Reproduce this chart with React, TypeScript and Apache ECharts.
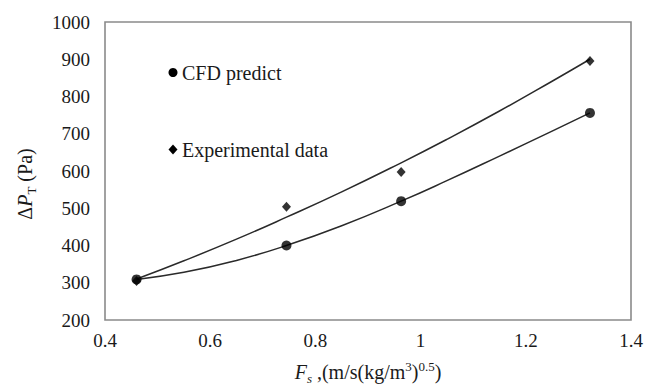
import React, { useEffect, useRef } from "react";
import * as echarts from "echarts";

const cfdX = [0.46, 0.745, 0.963, 1.322];
const cfdY = [309, 400, 519, 756];
const expX = [0.46, 0.745, 0.963, 1.322];
const expY = [305, 504, 597, 895];

// trend curves
const trendX = [0.46, 0.55, 0.65, 0.745, 0.85, 0.963, 1.05, 1.15, 1.25, 1.322];
const cfdTrendY = [309, 328, 360, 400, 453, 519, 574, 640, 707, 756];
const expTrendY = [310, 359, 417, 476, 544, 622, 685, 761, 841, 900];

// tick labels
const xTicks = [0.4, 0.6, 0.8, 1.0, 1.2, 1.4];
const xTickLabels = ["0.4", "0.6", "0.8", "1", "1.2", "1.4"];
const yTicks = [200, 300, 400, 500, 600, 700, 800, 900, 1000];
const yTickLabels = ["200", "300", "400", "500", "600", "700", "800", "900", "1000"];

const legendNames = ["CFD predict", "Experimental data"];

const FONT = "serif";
const INK = "#1a1a1a";

type Piece = { t: string; s: number; it?: boolean; dy?: number };

const xTitle: Piece[] = [
  { t: "F", s: 20, it: true },
  { t: "s", s: 13, it: true, dy: 6 },
  { t: " ,(m/s(kg/m", s: 20 },
  { t: "3", s: 13, dy: -6 },
  { t: ")", s: 20 },
  { t: "0.5", s: 13, dy: -6 },
  { t: ")", s: 20 },
];
const yTitle: Piece[] = [
  { t: "Δ", s: 20 },
  { t: "P", s: 20, it: true },
  { t: "T", s: 13, dy: 6 },
  { t: " (Pa)", s: 20 },
];

function layout(pieces: Piece[]) {
  const ctx = document.createElement("canvas").getContext("2d") as CanvasRenderingContext2D;
  const widths = pieces.map((p) => {
    ctx.font = `${p.it ? "italic " : ""}${p.s}px ${FONT}`;
    return ctx.measureText(p.t).width;
  });
  const total = widths.reduce((a, b) => a + b, 0);
  let x = -total / 2;
  return pieces.map((p, i) => {
    const el = {
      type: "text",
      x,
      y: p.dy || 0,
      style: {
        text: p.t,
        fontFamily: FONT,
        fontSize: p.s,
        fontStyle: p.it ? "italic" : "normal",
        fontWeight: "normal",
        fill: INK,
        align: "left",
        verticalAlign: "middle",
      },
    };
    x += widths[i];
    return el;
  });
}

function txt(text: string, x: number, y: number, size: number, align: string, vAlign: string) {
  return {
    type: "text",
    x,
    y,
    style: {
      text,
      fontFamily: FONT,
      fontSize: size,
      fontStyle: "normal",
      fontWeight: "normal",
      fill: INK,
      align,
      verticalAlign: vAlign,
    },
  };
}

export default function App() {
  const ref = useRef<HTMLDivElement>(null);
  useEffect(() => {
    if (!ref.current) return;
    const chart = echarts.init(ref.current, null, { renderer: "svg" });
    const zip = (xs: number[], ys: number[]) => xs.map((x, i) => [x, ys[i]]);
    chart.setOption({
      animation: false,
      backgroundColor: "#fff",
      grid: {
        left: 105,
        right: 27,
        top: 22,
        bottom: 66,
        show: true,
        borderColor: "#8a8a8a",
        borderWidth: 1.6,
      },
      xAxis: {
        type: "value",
        min: 0.4,
        max: 1.4,
        interval: 0.2,
        axisLine: { show: false },
        axisTick: { show: false },
        splitLine: { show: false },
        axisLabel: { show: false },
      },
      yAxis: {
        type: "value",
        min: 200,
        max: 1000,
        interval: 100,
        axisLine: { show: false },
        axisTick: { show: false },
        splitLine: { show: false },
        axisLabel: { show: false },
      },
      series: [
        {
          name: "CFD trend",
          type: "line",
          data: zip(trendX, cfdTrendY),
          smooth: true,
          showSymbol: false,
          symbol: "none",
          silent: true,
          lineStyle: { color: "#2a2a2a", width: 1.5 },
          z: 1,
        },
        {
          name: "Exp trend",
          type: "line",
          data: zip(trendX, expTrendY),
          smooth: true,
          showSymbol: false,
          symbol: "none",
          silent: true,
          lineStyle: { color: "#2a2a2a", width: 1.5 },
          z: 1,
        },
        {
          name: legendNames[0],
          type: "scatter",
          symbol: "circle",
          symbolSize: 10,
          data: zip(cfdX, cfdY),
          itemStyle: { color: "#000" },
          z: 3,
        },
        {
          name: legendNames[1],
          type: "scatter",
          symbol: "diamond",
          symbolSize: [9, 10],
          data: zip(expX, expY),
          itemStyle: { color: "#000" },
          z: 3,
        },
      ],
    });

    const toPx = (x: number, y: number) =>
      chart.convertToPixel({ gridIndex: 0 }, [x, y]) as number[];
    const graphics: any[] = [];
    xTicks.forEach((v, i) => {
      const p = toPx(v, 200);
      graphics.push(txt(xTickLabels[i], p[0], p[1] + 11, 19, "center", "top"));
    });
    yTicks.forEach((v, i) => {
      const p = toPx(0.4, v);
      graphics.push(txt(yTickLabels[i], p[0] - 15, p[1], 19, "right", "middle"));
    });
    // legend
    graphics.push({ type: "circle", shape: { cx: 173, cy: 72.5, r: 4.5 }, style: { fill: "#000" } });
    graphics.push(txt(legendNames[0], 182, 72.5, 20, "left", "middle"));
    graphics.push({
      type: "polygon",
      shape: { points: [[173, 144.5], [177.5, 149.5], [173, 154.5], [168.5, 149.5]] },
      style: { fill: "#000" },
    });
    graphics.push(txt(legendNames[1], 182, 149.5, 20, "left", "middle"));
    // axis titles
    graphics.push({ type: "group", x: 25, y: 184, rotation: Math.PI / 2, children: layout(yTitle) });
    graphics.push({ type: "group", x: 368, y: 372, children: layout(xTitle) });

    chart.setOption({ graphic: graphics });
    return () => chart.dispose();
  }, []);
  return <div ref={ref} style={{ width: 658, height: 386, position: "absolute", left: 0, top: 0 }} />;
}
